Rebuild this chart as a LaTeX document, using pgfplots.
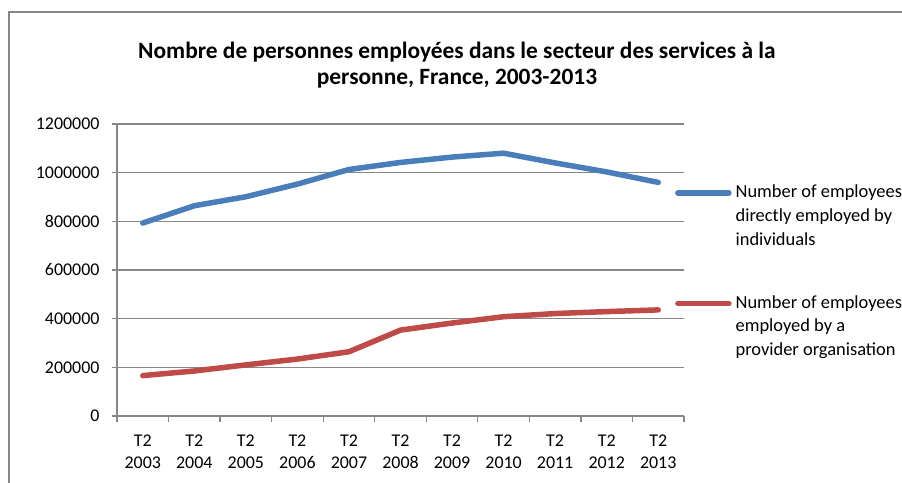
\documentclass[border=0pt]{standalone}
\usepackage{fontspec}
\setmainfont{Carlito}
\usepackage{pgfplots}
\pgfplotsset{compat=1.18}
\definecolor{blueline}{HTML}{4A7EBB}
\definecolor{redline}{HTML}{BE4B48}
\definecolor{gridgray}{HTML}{878787}
\begin{document}
\begin{tikzpicture}[x=1bp,y=1bp]
\useasboundingbox (0,0) rectangle (902,483);
\draw[gridgray, line width=1.2bp] (9,0) -- (9,471) -- (902,471);
\node[align=center, font=\fontsize{23.5}{26}\selectfont\bfseries] at (457,418)
 {Nombre de personnes employées dans le secteur des services à la\\personne, France, 2003-2013};
\begin{axis}[
 at={(117bp,67bp)}, anchor=south west,
 scale only axis, width=567bp, height=292bp,
 xmin=-0.5, xmax=10.5, ymin=0, ymax=1200000,
 axis x line*=bottom, axis y line*=left,
 axis line style={gridgray, line width=1.2bp, -},
 tick align=outside,
 xtick={0,...,10},
 xticklabels={{T2\\2003},{T2\\2004},{T2\\2005},{T2\\2006},{T2\\2007},{T2\\2008},{T2\\2009},{T2\\2010},{T2\\2011},{T2\\2012},{T2\\2013}},
 xticklabel style={align=center, font=\fontsize{18}{22}\selectfont, yshift=-10bp},
 major x tick style={draw=none},
 minor xtick={-0.5,0.5,...,10.5},
 minor tick length=6bp,
 minor x tick style={gridgray, line width=1.2bp},
 ytick={0,200000,...,1200000},
 major tick length=5bp,
 major y tick style={gridgray, line width=1.2bp},
 ymajorgrids,
 grid style={gridgray, line width=1.2bp},
 yticklabel style={font=\fontsize{18}{20}\selectfont, xshift=-9bp},
 scaled y ticks=false,
 /pgf/number format/.cd, fixed, 1000 sep={}, assume math mode=true, /pgfplots/.cd,
 legend cell align=left,
 legend style={at={(axis description cs:0.984,0.800)}, anchor=north west, draw=none, fill=none,
   inner sep=0pt, column sep=0pt, row sep=44.5bp,
   font=\fontsize{18.5}{24}\selectfont,
   cells={anchor=base west},
   nodes={align=left, inner xsep=4bp, inner ysep=2bp}},
 legend image code/.code={\draw[#1, line cap=round] (2.5bp,52.3bp) -- (53.5bp,52.3bp);},
]
\addplot[blueline, line width=5.5bp, line cap=round, line join=round] coordinates {
 (0,793000) (1,864000) (2,901000) (3,953000) (4,1013000) (5,1042000)
 (6,1064000) (7,1080000) (8,1040000) (9,1003000) (10,960000)};
\addlegendentry{Number of employees\\directly employed by\\individuals}
\addplot[redline, line width=5.5bp, line cap=round, line join=round] coordinates {
 (0,166000) (1,185000) (2,210000) (3,234000) (4,264000) (5,353000)
 (6,382000) (7,408000) (8,421000) (9,429000) (10,436000)};
\addlegendentry{Number of employees\\employed by a\\provider organisation}
\end{axis}
\end{tikzpicture}
\end{document}
